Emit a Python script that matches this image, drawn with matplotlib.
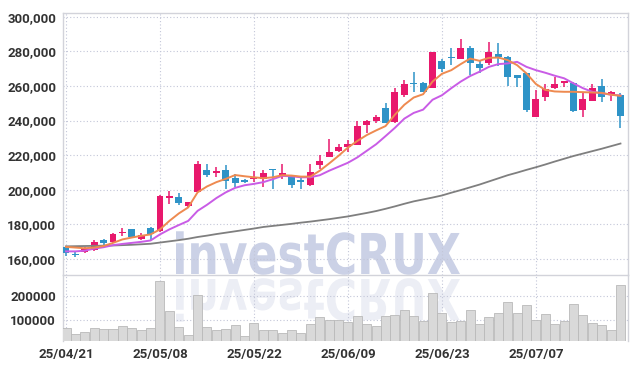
import matplotlib
matplotlib.use("Agg")
import matplotlib.pyplot as plt
import numpy as np
from matplotlib.textpath import TextPath
from matplotlib.patches import PathPatch
from matplotlib.font_manager import FontProperties
from matplotlib.transforms import Affine2D

# daily candles, 25/04/21 .. 25/07/18
opens = [167000, 163000, 164000, 165000, 171000, 169900, 175000, 177100, 171600, 177700,
         176100, 195200, 196000, 190400, 198500, 211200, 209700, 211200, 206900, 205400,
         206000, 206100, 211600, 208800, 207200, 205900, 202700, 214500, 219000, 222500,
         224800, 225900, 237500, 239600, 247100, 239200, 254800, 261700, 261700, 258700,
         274500, 276600, 275800, 281900, 272600, 273000, 278300, 276800, 266300, 267600,
         242100, 253500, 258700, 261500, 261900, 246300, 251400, 260200, 254500, 255000]
highs = [167500, 164000, 166700, 171000, 171800, 175200, 178000, 177300, 175300, 178300,
         197000, 199500, 198000, 192700, 216700, 215100, 213200, 214100, 209300, 206200,
         210700, 211600, 212000, 214900, 207200, 207200, 214900, 220200, 229500, 226700,
         228600, 240000, 240400, 243400, 250100, 258700, 263300, 268200, 262500, 279600,
         275800, 281900, 286900, 283000, 274900, 285300, 284800, 277500, 266300, 267600,
         257700, 261100, 265000, 263000, 262500, 255800, 261100, 263800, 256800, 255800]
lows = [161500, 161000, 163300, 164400, 168000, 169300, 173000, 172300, 171000, 170700,
        175700, 191700, 191300, 189400, 198500, 207300, 207300, 200500, 201500, 204000,
        204400, 201500, 200600, 206300, 201100, 200600, 202300, 212000, 219000, 222100,
        222100, 225900, 232800, 238300, 238500, 238300, 253700, 256400, 256200, 258700,
        268200, 272000, 275400, 266300, 267200, 272000, 271400, 260000, 259200, 244800,
        242100, 251000, 258100, 259600, 244800, 242100, 251000, 250700, 251000, 235800]
closes = [163500, 162500, 166000, 169700, 169100, 174400, 175800, 172600, 174000, 174200,
          196600, 196200, 192500, 192700, 214700, 208300, 210800, 205000, 204000, 204600,
          206800, 209900, 211200, 209900, 202500, 204200, 210300, 216800, 221900, 224800,
          226500, 237100, 239800, 242300, 238500, 256200, 260900, 261300, 256200, 279600,
          269500, 276200, 281900, 273000, 270100, 279600, 276800, 264900, 264400, 246300,
          252400, 258500, 261300, 263000, 245500, 252700, 258900, 253500, 256600, 242500]
volume = [66200, 40900, 49300, 66200, 62000, 62000, 74700, 66200, 57800, 66200,
          260500, 138000, 70500, 36700, 205600, 70500, 57800, 62000, 78900, 32400,
          87400, 57800, 57800, 45100, 57800, 45100, 83100, 112700, 100000, 100000,
          91600, 117000, 83100, 74700, 117000, 121200, 142300, 117000, 95800, 214000,
          129600, 91600, 95800, 142300, 83100, 112700, 129600, 176100, 129600, 163400,
          100000, 125400, 83100, 95800, 167600, 121200, 87400, 78900, 57800, 243600]

# moving averages as drawn on the chart
ma_short = [167000, 166600, 166200, 166600, 167500, 169300, 171300, 172400, 173400, 174200,
            177100, 182000, 186300, 189800, 198500, 201900, 204400, 206300, 208500, 207800,
            207200, 206700, 207200, 208400, 208200, 207600, 207600, 211000, 215200, 219600,
            224400, 228200, 231600, 234300, 236800, 243400, 249100, 253300, 255200, 262500,
            267000, 269100, 272600, 275800, 274500, 276200, 276400, 274900, 272000, 267200,
            261100, 257700, 256800, 256600, 256600, 256400, 256200, 256000, 254900, 254300]
ma_mid = [164400, 164400, 164800, 166000, 166800, 168000, 168700, 169300, 169900, 170700,
          174200, 177100, 179600, 182000, 187800, 191300, 195200, 198500, 201100, 202600,
          203400, 204400, 206100, 208000, 207800, 207200, 207200, 208400, 211000, 213300,
          215600, 218700, 222500, 226300, 231000, 235800, 241100, 244400, 246300, 252000,
          254600, 258700, 262500, 265700, 268200, 271000, 272600, 273000, 273900, 271000,
          269100, 267600, 265900, 264400, 261500, 258700, 256600, 255800, 254900, 254500]
ma_long = [167300, 167400, 167500, 167600, 167700, 167800, 168000, 168200, 168500, 168800,
           169500, 170200, 170900, 171700, 172700, 173500, 174400, 175200, 176000, 176800,
           177600, 178500, 179100, 179700, 180300, 181000, 181600, 182300, 183000, 183800,
           184600, 185600, 186600, 187700, 189000, 190400, 191900, 193300, 194400, 195500,
           196700, 198300, 199800, 201400, 203000, 204800, 206600, 208400, 209900, 211500,
           213000, 214600, 216300, 217900, 219500, 220900, 222300, 223700, 225200, 226700]

tick_pos = [0, 10, 20, 30, 40, 50]
tick_labels = ["25/04/21", "25/05/08", "25/05/22", "25/06/09", "25/06/23", "25/07/07"]

UP = "#e8186c"
DOWN = "#2e93c7"
W, H = 637, 369

plt.rcParams["font.family"] = ["Roboto", "DejaVu Sans"]

fig = plt.figure(figsize=(W / 100, H / 100), dpi=100)
fig.patch.set_facecolor("white")
ax = fig.add_axes([63 / W, 1 - 275 / H, (628 - 63) / W, (275 - 12.7) / H])
axv = fig.add_axes([63 / W, 1 - 341 / H, (628 - 63) / W, (341 - 275) / H], sharex=ax)


# watermark + its mirror image
def watermark(x0, base, width, height, flip, color):
    tp = TextPath((0, 0), "investCRUX", size=1,
                  prop=FontProperties(family="DejaVu Sans", weight="bold"))
    ext = tp.get_extents()
    sx = width / ext.width
    sy = height / 0.729
    tr = (Affine2D().translate(-ext.x0, 0).scale(sx, -sy if flip else sy)
          .translate(x0, H - base).scale(1 / W, 1 / H) + fig.transFigure)
    fig.add_artist(PathPatch(tp, transform=tr, facecolor=color, lw=0, zorder=-1))


watermark(176, 274, 284, 41, False, "#cbd1e6")
watermark(176, 279, 284, 41, True, "#eceef5")

x = np.arange(len(opens))
o = np.array(opens)
c = np.array(closes)
colors = [UP if cc >= oo else DOWN for oo, cc in zip(o, c)]
bottoms = np.minimum(o, c)
heights = np.maximum(np.abs(c - o), 600)

ax.vlines(x, lows, highs, colors=colors, lw=1.1, zorder=3)
ax.bar(x, heights, bottom=bottoms, width=0.74, color=colors, zorder=4)

ax.plot(x, ma_long, color="#7f7f7f", lw=1.3, zorder=5)
ax.plot(x, ma_mid, color="#c95ce6", lw=1.4, zorder=5)
ax.plot(x, ma_short, color="#ee8a50", lw=1.4, zorder=6)

axv.bar(x, volume, width=0.96, color="#d9d9d9", edgecolor="#b9b9b9", lw=0.6, zorder=3)

for a in (ax, axv):
    a.set_facecolor("none")
    a.grid(True, linestyle=(0, (1, 2)), color="#c3c6d8", lw=0.8)
    a.set_axisbelow(True)
    a.tick_params(length=0, labelsize=9.5, labelcolor="#333333", pad=5)
    for s in a.spines.values():
        s.set_color("#d2d3da")
        s.set_linewidth(1)

ax.set_xlim(-0.32, 59.8)
ax.set_ylim(150750, 302300)
ax.set_yticks(range(160000, 300001, 20000))
ax.set_yticklabels([f"{v:,}" for v in range(160000, 300001, 20000)], fontweight="bold")
ax.tick_params(axis="x", labelbottom=False)

axv.set_ylim(11300, 287300)
axv.set_yticks([100000, 200000])
axv.set_yticklabels(["100000", "200000"], fontweight="bold")
axv.set_xticks(tick_pos)
axv.set_xticklabels(tick_labels, fontweight="bold")
axv.tick_params(axis="x", pad=5)
axv.spines["top"].set_visible(False)
axv.spines["bottom"].set_visible(False)

fig.savefig("out.png", dpi=100, facecolor="white")
